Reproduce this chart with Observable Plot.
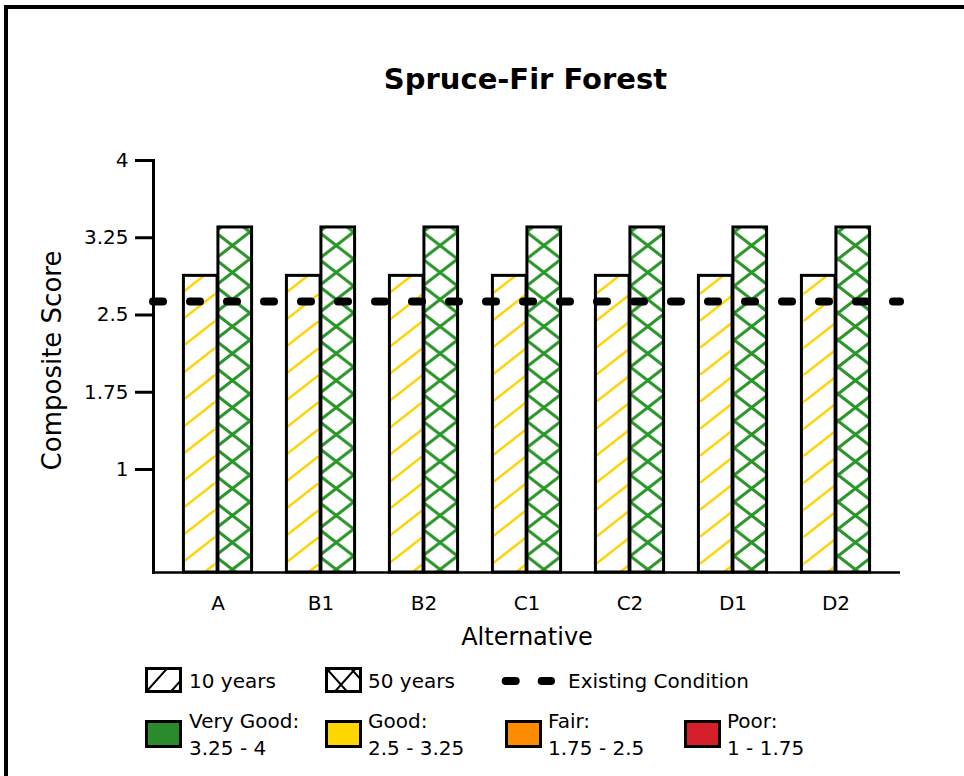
<!DOCTYPE html>
<html><head><meta charset="utf-8">
<script src="https://cdn.jsdelivr.net/npm/d3@7"></script>
<script src="https://cdn.jsdelivr.net/npm/@observablehq/plot@0.6"></script>
<style>
html,body{margin:0;padding:0;background:#fff;}
body{width:964px;height:776px;overflow:hidden;position:relative;font-family:"DejaVu Sans",sans-serif;color:#000;}
#frame{position:absolute;left:4px;top:5px;width:1000px;height:1000px;border-left:4px solid #000;border-top:4px solid #000;z-index:10;}
#title{position:absolute;left:0;top:65px;width:1051px;text-align:center;font-weight:bold;font-size:29px;line-height:29px;}
#chart{position:absolute;left:0;top:110px;}
.lt{position:absolute;font-size:20px;line-height:24px;white-space:nowrap;}
.lt2{position:absolute;font-size:20px;line-height:26.5px;white-space:nowrap;}
.box{position:absolute;box-sizing:border-box;width:37px;height:28px;border:3px solid #000;}
.icon{position:absolute;}
</style>
</head><body>
<div id="frame"></div>
<div id="title"></div>
<div id="chart"></div>
<div id="legend"></div>
<script>
// ---- data ----
const titleText = "Spruce-Fir Forest";
const alternatives = ["A", "B1", "B2", "C1", "C2", "D1", "D2"];
const tenYears = [2.88, 2.88, 2.88, 2.88, 2.88, 2.88, 2.88];
const fiftyYears = [3.35, 3.35, 3.35, 3.35, 3.35, 3.35, 3.35];
const existingCondition = 2.63;
const yTicks = [1, 1.75, 2.5, 3.25, 4];
const yLabel = "Composite Score";
const xLabel = "Alternative";
const periodLabels = ["10 years", "50 years"];
const existingLabel = "Existing Condition";
const ratingNames = ["Very Good:", "Good:", "Fair:", "Poor:"];
const ratingRanges = ["3.25 - 4", "2.5 - 3.25", "1.75 - 2.5", "1 - 1.75"];
const ratingColors = ["#2b8a2b", "#ffd700", "#ff8c00", "#d4202a"];

// ---- layout ----
const W = 964, H = 552, ML = 153, MR = 64, MT = 50, MB = 90, PAD = 0.097, BAR = 34.5;
const bw = (W - ML - MR) / (alternatives.length + 2 * PAD);

const rows10 = alternatives.map((a, i) => ({alternative: a, value: tenYears[i]}));
const rows50 = alternatives.map((a, i) => ({alternative: a, value: fiftyYears[i]}));

document.getElementById("title").textContent = titleText;

const chart = Plot.plot({
  width: W, height: H,
  marginLeft: ML, marginRight: MR, marginTop: MT, marginBottom: MB,
  style: {fontFamily: "DejaVu Sans", fontSize: "20px", background: "white", color: "black", overflow: "visible"},
  x: {type: "band", domain: alternatives, paddingInner: 0, paddingOuter: PAD, align: 0.5, label: null},
  y: {domain: [0, 4], label: null},
  marks: [
    Plot.barY(rows10, {x: "alternative", y: "value", fill: "url(#hatch10)", stroke: "black", strokeWidth: 3,
      insetLeft: bw / 2 - BAR, insetRight: bw / 2}),
    Plot.barY(rows50, {x: "alternative", y: "value", fill: "url(#hatch50)", stroke: "black", strokeWidth: 3,
      insetLeft: bw / 2, insetRight: bw / 2 - BAR}),
    Plot.ruleY([existingCondition], {stroke: "black", strokeWidth: 8, strokeDasharray: "10,27", strokeLinecap: "round"}),
    Plot.ruleY([0], {stroke: "black", strokeWidth: 2.5}),
    Plot.frame({anchor: "left", stroke: "black", strokeWidth: 3}),
    Plot.axisY({ticks: yTicks, tickSize: 18, tickPadding: 7, tickFormat: d => String(d), fontSize: 20, strokeWidth: 3, label: null}),
    Plot.axisX({tickSize: 0, tickPadding: 23, fontSize: 20, label: null}),
    Plot.text([yLabel], {text: d => d, frameAnchor: "left", textAnchor: "middle", lineAnchor: "middle", rotate: -90, dx: -101, dy: -6, fontSize: 26}),
    Plot.text([xLabel], {text: d => d, frameAnchor: "bottom", textAnchor: "middle", lineAnchor: "middle", dy: 65, fontSize: 24})
  ]
});

// hatch patterns
const defs = d3.select(chart).insert("defs", ":first-child");
const x0 = ML + PAD * bw + bw / 2 - BAR;
const tileW = bw / 3, tileH = 27;
function hatch(id, color, sw, both, y0) {
  const p = defs.append("pattern").attr("id", id).attr("patternUnits", "userSpaceOnUse")
    .attr("x", x0).attr("y", y0).attr("width", tileW).attr("height", tileH);
  p.append("rect").attr("width", tileW).attr("height", tileH).attr("fill", "white");
  for (const k of [-1, 0, 1]) {
    p.append("line").attr("x1", k * tileW).attr("y1", tileH).attr("x2", (k + 1) * tileW).attr("y2", 0)
      .attr("stroke", color).attr("stroke-width", sw);
    if (both) p.append("line").attr("x1", k * tileW).attr("y1", 0).attr("x2", (k + 1) * tileW).attr("y2", tileH)
      .attr("stroke", color).attr("stroke-width", sw);
  }
}
hatch("hatch10", "#ffd200", 2.5, false, 22);
hatch("hatch50", "#2a962a", 3, true, 41);

document.getElementById("chart").appendChild(chart);

// ---- legend ----
const legend = document.getElementById("legend");
function addText(cls, left, top, html) {
  const d = document.createElement("div");
  d.className = cls; d.style.left = left + "px"; d.style.top = top + "px"; d.innerHTML = html;
  legend.appendChild(d);
}
function addSvg(left, top, w, h, inner) {
  const d = document.createElement("div");
  d.className = "icon"; d.style.left = left + "px"; d.style.top = top + "px";
  d.innerHTML = `<svg width="${w}" height="${h}" xmlns="http://www.w3.org/2000/svg">${inner}</svg>`;
  legend.appendChild(d);
}
const clip = (id) => `<defs><clipPath id="${id}"><rect x="3.5" y="3.5" width="34" height="23"/></clipPath></defs>`;
addSvg(143, 665, 42, 32, clip("c10") +
  `<g clip-path="url(#c10)" stroke="black" stroke-width="2">
     <line x1="3.5" y1="26.5" x2="24" y2="3.5"/><line x1="28" y1="26.5" x2="48.5" y2="3.5"/></g>
   <rect x="3.5" y="3.5" width="34" height="23" fill="none" stroke="black" stroke-width="3"/>`);
addSvg(323, 665, 42, 32, clip("c50") +
  `<g clip-path="url(#c50)" stroke="black" stroke-width="2">
     <line x1="3.5" y1="3.5" x2="24" y2="26.5"/><line x1="28" y1="3.5" x2="48.5" y2="26.5"/>
     <line x1="12" y1="26.5" x2="32.5" y2="3.5"/><line x1="-13" y1="26.5" x2="7.5" y2="3.5"/></g>
   <rect x="3.5" y="3.5" width="34" height="23" fill="none" stroke="black" stroke-width="3"/>`);
addSvg(496, 670, 66, 22,
  `<line x1="9.7" y1="11" x2="55" y2="11" stroke="black" stroke-width="8" stroke-linecap="round" stroke-dasharray="10,26"/>`);
addText("lt", 189, 669, periodLabels[0]);
addText("lt", 368, 669, periodLabels[1]);
addText("lt", 568, 669, existingLabel);

const boxLeft = [145, 325, 505, 684];
const textLeft = [189, 368, 548, 727];
ratingNames.forEach((n, i) => {
  const b = document.createElement("div");
  b.className = "box"; b.style.left = boxLeft[i] + "px"; b.style.top = "720px"; b.style.background = ratingColors[i];
  legend.appendChild(b);
  addText("lt2", textLeft[i], 708, n + "<br>" + ratingRanges[i]);
});
</script>
</body></html>
